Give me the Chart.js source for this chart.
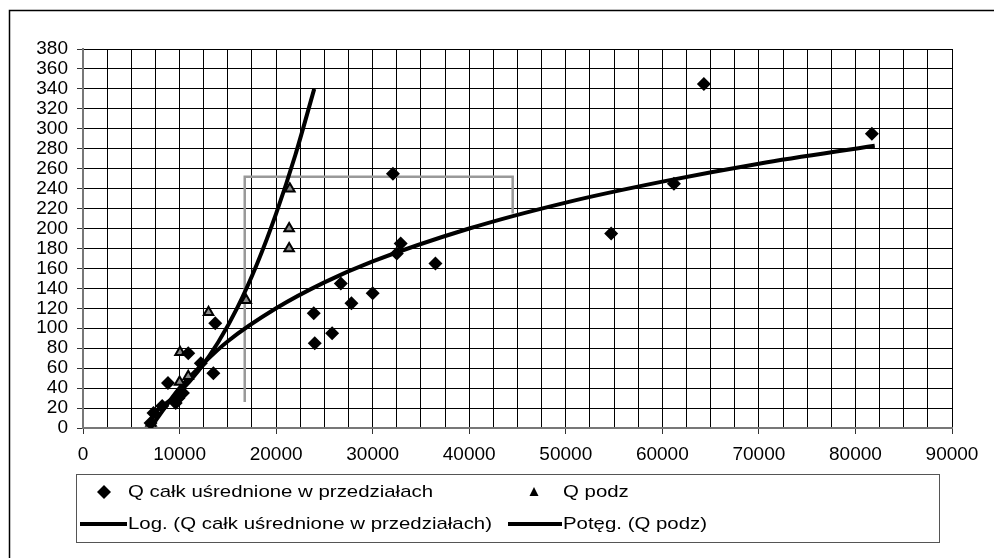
<!DOCTYPE html>
<html>
<head>
<meta charset="utf-8">
<script src="https://cdn.jsdelivr.net/npm/chart.js@4.4.0/dist/chart.umd.min.js"></script>
<style>
  html, body { margin: 0; padding: 0; background: #fff; }
  #wrap { width: 994px; height: 558px; position: relative; }
</style>
</head>
<body>
<div id="wrap"><canvas id="mycanvas" width="994" height="558"></canvas></div>
<script>
// Q całk uśrednione w przedziałach (diamonds)
var calkX = [7000, 7300, 8200, 8800, 9600, 9900, 10350, 10900, 12200, 13500, 13700, 23900, 24000, 25800, 26700, 27800, 30000, 32100, 32500, 32900, 36500, 54700, 61200, 64300, 81700];
var calkY = [5, 15, 22, 45, 25, 30, 35, 75, 65, 55, 105, 115, 85, 95, 145, 125, 135, 255, 175, 185, 165, 195, 245, 345, 295];

// Q podz (triangles)
var podzX = [7050, 10000, 10050, 10900, 13000, 16900, 21350, 21350, 21420];
var podzY = [5, 46, 76, 52, 116, 128, 180, 200, 240];

// Log. trend line
var logX = [7000, 8000, 10000, 12500, 15000, 20000, 25000, 30000, 40000, 50000, 60000, 70000, 82000];
var logY = [0, 14, 40, 65, 87, 120, 146, 167, 200, 226, 247, 265, 283];

// Potęg. trend line
var powX = [7000, 8000, 10000, 12000, 14000, 16000, 18000, 20000, 22000, 23950];
var powY = [12, 20, 36, 58, 86, 121, 164, 215, 274, 340];

// gray bracket
var ramkaX = [16750, 16750, 44500, 44500];
var ramkaY = [26, 252, 252, 215];

var xTicks = ['0', '10000', '20000', '30000', '40000', '50000', '60000', '70000', '80000', '90000'];

function pts(xs, ys) {
    var out = [];
    for (var i in xs) {
        out.push({x: xs[i], y: ys[i]});
    }
    return out;
}

var FONT = '"Liberation Sans", Arial, sans-serif';

// stretched text, like in the picture
function txt(ctx, s, x, y) {
    ctx.save();
    ctx.translate(x, y);
    ctx.scale(1.2, 1);
    ctx.fillText(s, 0, 0);
    ctx.restore();
}

var ramkaPlugin = {
    id: 'ramka',
    beforeDraw: function(chart) {
        var ctx = chart.ctx;
        ctx.save();
        ctx.fillStyle = '#fff';
        ctx.fillRect(0, 0, chart.width, chart.height);
        ctx.strokeStyle = '#000';
        ctx.lineWidth = 1.5;
        ctx.strokeRect(9.5, 10.5, 1100, 700);
        ctx.restore();
    },
    afterDraw: function(chart) {
        var ctx = chart.ctx;
        ctx.save();
        // legend box
        ctx.strokeStyle = '#555';
        ctx.lineWidth = 1;
        ctx.strokeRect(76.5, 474.5, 863, 68);
        ctx.fillStyle = '#000';
        ctx.font = '17px ' + FONT;
        ctx.textBaseline = 'middle';
        ctx.textAlign = 'left';
        // row 1
        ctx.beginPath();
        ctx.moveTo(104, 485); ctx.lineTo(111, 492); ctx.lineTo(104, 499); ctx.lineTo(97, 492);
        ctx.closePath(); ctx.fill();
        txt(ctx, 'Q całk uśrednione w przedziałach', 128, 492);
        ctx.beginPath();
        ctx.moveTo(534, 487); ctx.lineTo(538.5, 496); ctx.lineTo(529.5, 496);
        ctx.closePath(); ctx.fill();
        txt(ctx, 'Q podz', 563, 492);
        // row 2
        ctx.lineWidth = 4;
        ctx.strokeStyle = '#000';
        ctx.beginPath(); ctx.moveTo(80, 524); ctx.lineTo(127, 524); ctx.stroke();
        txt(ctx, 'Log. (Q całk uśrednione w przedziałach)', 128, 524);
        ctx.beginPath(); ctx.moveTo(508, 524); ctx.lineTo(562, 524); ctx.stroke();
        txt(ctx, 'Potęg. (Q podz)', 563, 524);
        ctx.restore();
    }
};

var chartdata = {
    datasets: [
        {
            label: 'Q całk uśrednione w przedziałach',
            data: pts(calkX, calkY),
            pointStyle: 'rectRot',
            pointRadius: 7,
            backgroundColor: '#000',
            borderColor: '#000',
            borderWidth: 0,
            showLine: false
        },
        {
            label: 'Q podz',
            data: pts(podzX, podzY),
            pointStyle: 'triangle',
            pointRadius: 5.5,
            backgroundColor: '#888',
            borderColor: '#000',
            borderWidth: 2,
            showLine: false
        },
        {
            label: 'Log. (Q całk uśrednione w przedziałach)',
            data: pts(logX, logY),
            showLine: true,
            borderColor: '#000',
            borderWidth: 4,
            pointRadius: 0,
            cubicInterpolationMode: 'monotone',
            fill: false
        },
        {
            label: 'Potęg. (Q podz)',
            data: pts(powX, powY),
            showLine: true,
            borderColor: '#000',
            borderWidth: 4,
            pointRadius: 0,
            cubicInterpolationMode: 'monotone',
            fill: false
        },
        {
            label: 'ramka',
            data: pts(ramkaX, ramkaY),
            showLine: true,
            borderColor: '#999',
            borderWidth: 2.5,
            pointRadius: 0,
            tension: 0,
            fill: false
        }
    ]
};

var ctx = document.getElementById('mycanvas');

var chart = new Chart(ctx, {
    type: 'scatter',
    data: chartdata,
    plugins: [ramkaPlugin],
    options: {
        responsive: false,
        animation: false,
        devicePixelRatio: 1,
        layout: { padding: { left: 0, right: 42, top: 49, bottom: 94 } },
        plugins: {
            legend: { display: false },
            tooltip: { enabled: false }
        },
        scales: {
            x: {
                type: 'linear',
                min: 0,
                max: 90000,
                afterFit: function(scale) { scale.height = 36; },
                afterBuildTicks: function(scale) {
                    var t = [];
                    for (var v = 0; v <= 90000; v += 2500) t.push({value: v});
                    scale.ticks = t;
                },
                ticks: {
                    autoSkip: false,
                    maxRotation: 0,
                    padding: 9,
                    color: '#000',
                    font: { family: FONT, size: 19 },
                    callback: function(v) {
                        return v % 10000 === 0 ? xTicks[v / 10000] : '';
                    }
                },
                grid: {
                    color: '#000',
                    lineWidth: 1,
                    tickLength: 6,
                    tickColor: function(c) {
                        return (c.tick && c.tick.value % 10000 === 0) ? '#333' : 'rgba(0,0,0,0)';
                    }
                },
                border: { color: '#777', width: 2 }
            },
            y: {
                min: 0,
                max: 380,
                afterFit: function(scale) { scale.width = 83; },
                ticks: {
                    stepSize: 20,
                    autoSkip: false,
                    padding: 9,
                    color: '#000',
                    font: { family: FONT, size: 19 }
                },
                grid: {
                    color: '#000',
                    lineWidth: 1,
                    tickLength: 6,
                    tickColor: '#333'
                },
                border: { color: '#777', width: 2 }
            }
        }
    }
});
</script>
</body>
</html>
